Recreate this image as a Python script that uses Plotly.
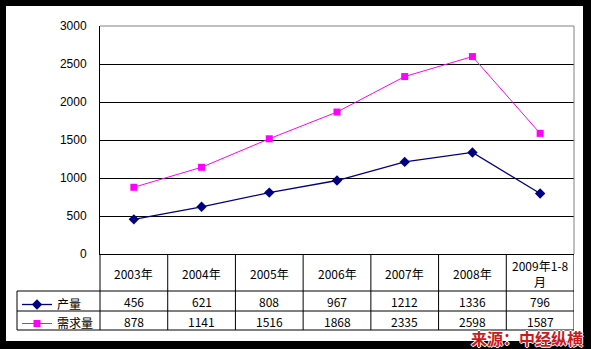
import plotly.graph_objects as go

# Chart data
categories = ["2003年", "2004年", "2005年", "2006年", "2007年", "2008年", "2009年1-8月"]
header_labels = ["2003年", "2004年", "2005年", "2006年", "2007年", "2008年", "2009年1-8<br>月"]
output_vals = [456, 621, 808, 967, 1212, 1336, 796]        # 产量
demand_vals = [878, 1141, 1516, 1868, 2335, 2598, 1587]    # 需求量
y_ticks = [0, 500, 1000, 1500, 2000, 2500, 3000]
series_names = ["产量", "需求量"]

W, H = 591, 349


def px(x):
    return x / W


def py(y):
    return 1 - y / H


TABLE_FONT = dict(family="SimSun, Noto Sans CJK SC, sans-serif", size=12, color="black")

fig = go.Figure()
fig.add_trace(go.Scatter(
    x=categories, y=output_vals, name=series_names[0], mode="lines+markers",
    line=dict(color="#000080", width=1.3),
    marker=dict(symbol="diamond", size=8, color="#000080"),
))
fig.add_trace(go.Scatter(
    x=categories, y=demand_vals, name=series_names[1], mode="lines+markers",
    line=dict(color="#FF00FF", width=1),
    marker=dict(symbol="square", size=7, color="#FF00FF"),
))

shapes = []
# white canvas inside the black frame
shapes.append(dict(type="rect", xref="paper", yref="paper", x0=px(6), x1=px(583),
                   y0=py(341), y1=py(6), fillcolor="white", line_width=0, layer="below"))
# grey plot-area border (top and right)
shapes.append(dict(type="line", xref="paper", yref="paper", x0=px(100), x1=px(574),
                   y0=py(26), y1=py(26), line=dict(color="#808080", width=1)))
shapes.append(dict(type="line", xref="paper", yref="paper", x0=px(574), x1=px(574),
                   y0=py(26), y1=py(254), line=dict(color="#808080", width=1)))

# data table grid
for yy in (291, 311, 330):
    shapes.append(dict(type="line", xref="paper", yref="paper", x0=px(17), x1=px(574),
                       y0=py(yy), y1=py(yy), line=dict(color="black", width=1)))
shapes.append(dict(type="line", xref="paper", yref="paper", x0=px(17), x1=px(17),
                   y0=py(291), y1=py(330), line=dict(color="black", width=1)))
shapes.append(dict(type="line", xref="paper", yref="paper", x0=px(100), x1=px(100),
                   y0=py(254), y1=py(330), line=dict(color="black", width=1)))
for i in range(len(categories)):
    shapes.append(dict(type="line", xref="x", yref="paper", x0=i + 0.5, x1=i + 0.5,
                       y0=py(254), y1=py(330), line=dict(color="black", width=1)))

annotations = []
for i, lab in enumerate(header_labels):
    annotations.append(dict(x=i, xref="x", y=py(273), yref="paper", text=lab,
                            showarrow=False, font=TABLE_FONT, xanchor="center",
                            yanchor="middle"))
for i, (a, b) in enumerate(zip(output_vals, demand_vals)):
    annotations.append(dict(x=i, xref="x", y=py(301), yref="paper", text=str(a),
                            showarrow=False, font=TABLE_FONT, yanchor="middle"))
    annotations.append(dict(x=i, xref="x", y=py(321), yref="paper", text=str(b),
                            showarrow=False, font=TABLE_FONT, yanchor="middle"))

# source note
annotations.append(dict(
    x=px(527), y=py(338), xref="paper", yref="paper", text="<b>来源：中经纵横</b>",
    showarrow=False, xanchor="center", yanchor="middle", borderpad=0,
    font=dict(family="Noto Sans CJK SC", size=16, color="#CC1A1A",
              shadow="1px 0 0 white, -1px 0 0 white, 0 1px 0 white, 0 -1px 0 white"),
))

fig.update_layout(
    width=W, height=H,
    margin=dict(l=0, r=0, t=0, b=0, pad=0, autoexpand=False),
    paper_bgcolor="black",
    plot_bgcolor="rgba(0,0,0,0)",
    showlegend=True,
    legend=dict(x=px(17), y=py(290), xanchor="left", yanchor="top",
                bgcolor="rgba(0,0,0,0)", borderwidth=0, tracegroupgap=0,
                font=TABLE_FONT, itemwidth=30),
    xaxis=dict(domain=[px(100), px(574)], range=[-0.5, 6.5], type="category",
               showticklabels=False, showgrid=False, zeroline=False,
               showline=True, linecolor="black", linewidth=1, ticks=""),
    yaxis=dict(domain=[py(254), py(26)], range=[0, 3000], tickvals=y_ticks,
               showgrid=True, gridcolor="black", gridwidth=1, zeroline=False,
               showline=True, linecolor="black", linewidth=1, ticks="",
               ticklabelstandoff=10,
               tickfont=dict(family="Liberation Sans, Arial", size=12, color="black")),
    shapes=shapes,
    annotations=annotations,
)

fig.write_html("out.html")
